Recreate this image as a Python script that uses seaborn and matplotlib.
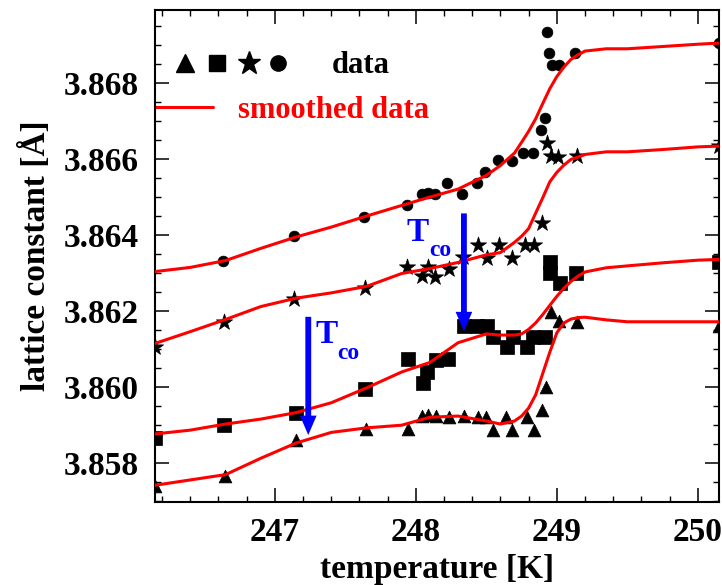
import numpy as np
import pandas as pd
import matplotlib
matplotlib.use("Agg")
import matplotlib.pyplot as plt
from matplotlib.ticker import MultipleLocator
import seaborn as sns

# ---------------- data ----------------
circ_T = [246.634, 247.138, 247.634, 247.937, 248.041, 248.088, 248.136, 248.219,
          248.325, 248.432, 248.49, 248.585, 248.68, 248.762, 248.833, 248.885,
          248.916, 248.932, 248.944, 248.963, 249.017, 249.129, 250.15]
circ_a = [3.86332, 3.86397, 3.86447, 3.86477, 3.86507, 3.86509, 3.86507, 3.86537,
          3.86507, 3.86537, 3.86566, 3.86597, 3.86594, 3.86616, 3.86616, 3.86676,
          3.86706, 3.86934, 3.86877, 3.86847, 3.86847, 3.86877, 3.86905]

star_T = [246.15, 246.639, 247.136, 247.639, 247.935, 248.041, 248.088, 248.137,
          248.235, 248.338, 248.444, 248.508, 248.59, 248.682, 248.771, 248.841,
          248.895, 248.932, 248.959, 249.008, 249.143, 250.15]
star_a = [3.86105, 3.86171, 3.8623, 3.86259, 3.86316, 3.86291, 3.86316, 3.86289,
          3.86311, 3.86341, 3.86373, 3.86339, 3.86373, 3.86339, 3.86373, 3.86373,
          3.86431, 3.86641, 3.86606, 3.86605, 3.86607, 3.86633]

sq_T = [246.15, 246.639, 247.148, 247.639, 247.946, 248.049, 248.077, 248.143,
        248.23, 248.341, 248.434, 248.502, 248.549, 248.644, 248.691, 248.786,
        248.833, 248.916, 248.951, 248.951, 249.022, 249.136, 250.15]
sq_a = [3.85864, 3.85899, 3.8593, 3.85993, 3.86072, 3.86011, 3.8604, 3.8607,
        3.86072, 3.8616, 3.86161, 3.8616, 3.86132, 3.86105, 3.86132, 3.86105,
        3.86132, 3.86132, 3.86329, 3.863, 3.86272, 3.863, 3.86329]

tri_T = [246.15, 246.646, 247.148, 247.646, 247.941, 248.042, 248.088, 248.146,
         248.235, 248.345, 248.441, 248.498, 248.544, 248.639, 248.685, 248.788,
         248.838, 248.895, 248.925, 248.959, 249.012, 249.146, 250.15]
tri_a = [3.85739, 3.85765, 3.8586, 3.8589, 3.85889, 3.85923, 3.85926, 3.85924,
         3.8592, 3.85923, 3.8592, 3.8592, 3.85886, 3.8592, 3.85886, 3.8592,
         3.85886, 3.85939, 3.85999, 3.86197, 3.86173, 3.8617, 3.86161]

smooth_T = [246.15, 246.4, 246.65, 246.9, 247.15, 247.4, 247.65, 247.9, 248.1, 248.3,
            248.5, 248.6, 248.7, 248.75, 248.8, 248.85, 248.9, 248.95, 249.0, 249.05,
            249.1, 249.15, 249.2, 249.35, 249.5, 249.75, 250.0, 250.15]
smooth_circ = [3.86303, 3.86314, 3.86332, 3.86364, 3.86394, 3.86420, 3.86449, 3.86477,
               3.86499, 3.86520, 3.86556, 3.86582, 3.86615, 3.86643, 3.86672, 3.86705,
               3.86745, 3.86784, 3.86816, 3.86841, 3.86861, 3.86873, 3.86883, 3.86889,
               3.86889, 3.86895, 3.86901, 3.86904]
smooth_star = [3.86114, 3.86145, 3.86177, 3.86211, 3.86233, 3.86247, 3.86264, 3.86298,
               3.86311, 3.86327, 3.86347, 3.86353, 3.86380, 3.86396, 3.86416, 3.86457,
               3.86497, 3.86539, 3.86564, 3.86583, 3.86598, 3.86604, 3.86611, 3.86618,
               3.86618, 3.86624, 3.86631, 3.86633]
smooth_sq = [3.85876, 3.85886, 3.85902, 3.85915, 3.85932, 3.85958, 3.85997, 3.86039,
             3.86064, 3.86116, 3.86139, 3.86136, 3.86136, 3.86139, 3.86151, 3.86168,
             3.86190, 3.86214, 3.86238, 3.86259, 3.86277, 3.86291, 3.86302, 3.86313,
             3.86318, 3.86326, 3.86333, 3.86335]
smooth_tri = [3.85741, 3.85755, 3.85769, 3.85812, 3.85852, 3.85880, 3.85892, 3.85899,
              3.85920, 3.85923, 3.85910, 3.85902, 3.85910, 3.85923, 3.85944, 3.85979,
              3.86035, 3.86091, 3.86142, 3.86168, 3.86178, 3.86182, 3.86183, 3.86176,
              3.86171, 3.86171, 3.86171, 3.86171]

x_ticks = [247, 248, 249, 250]
x_tick_labels = ["247", "248", "249", "250"]
y_ticks = [3.858, 3.860, 3.862, 3.864, 3.866, 3.868]
y_tick_labels = ["3.858", "3.860", "3.862", "3.864", "3.866", "3.868"]

# T_co arrows (temperature, start, end) and labels
tco_T = [247.237, 248.341]
tco_from = [3.86184, 3.86456]
tco_to = [3.85873, 3.86146]
tco_text_T = [247.285, 247.935]
tco_text_a = [3.86114, 3.86384]

# ---------------- styling ----------------
sns.set_theme(style="ticks")
plt.rcParams["font.family"] = ["Liberation Serif", "DejaVu Serif"]
plt.rcParams["font.weight"] = "bold"
plt.rcParams["axes.labelweight"] = "bold"
plt.rcParams["text.color"] = "black"
plt.rcParams["axes.labelcolor"] = "black"
plt.rcParams["xtick.color"] = "black"
plt.rcParams["ytick.color"] = "black"
plt.rcParams["xtick.labelcolor"] = "black"
plt.rcParams["ytick.labelcolor"] = "black"

RED = "#ff0000"
BLUE = "#0000ff"

fig = plt.figure(figsize=(7.22, 5.85), dpi=100)
ax = fig.add_axes([0.2147, 0.1419, 0.9958 - 0.2147, 0.9829 - 0.1419])

series = [
    (circ_T, circ_a, "o", 60),
    (star_T, star_a, "*", 150),
    (sq_T, sq_a, "s", 95),
    (tri_T, tri_a, "^", 85),
]
for T, a, m, s in series:
    df = pd.DataFrame({"T": T, "a": a})
    sns.scatterplot(data=df, x="T", y="a", marker=m, s=s, color="black",
                    edgecolor="black", linewidth=0.5, ax=ax, zorder=2, legend=False)

for curve in [smooth_circ, smooth_star, smooth_sq, smooth_tri]:
    dfl = pd.DataFrame({"T": smooth_T, "a": curve})
    sns.lineplot(data=dfl, x="T", y="a", color=RED, linewidth=2.2, ax=ax,
                 estimator=None, sort=False, zorder=3, legend=False)

# arrows and labels
for T, a0, a1, tx, ty in zip(tco_T, tco_from, tco_to, tco_text_T, tco_text_a):
    ax.annotate("", xy=(T, a1), xytext=(T, a0),
                arrowprops=dict(arrowstyle="simple,head_length=1.4,head_width=1.2,tail_width=0.42",
                                mutation_scale=10, color=BLUE, lw=0,
                                shrinkA=0, shrinkB=0), zorder=4)
    t = ax.text(tx, ty, "T", color=BLUE, fontsize=24, fontweight="bold",
                ha="left", va="baseline", zorder=5)
    ax.annotate("co", xy=(1.0, 0.0), xycoords=t, xytext=(0, -6),
                textcoords="offset points", color=BLUE, fontsize=17,
                fontweight="bold", ha="left", va="baseline", zorder=5)

# axes limits and ticks
ax.set_xlim(246.15, 250.15)
ax.set_ylim(3.85697, 3.86991)
ax.set_xticks(x_ticks)
ax.set_xticklabels(x_tick_labels)
ax.set_yticks(y_ticks)
ax.set_yticklabels(y_tick_labels)
ax.xaxis.set_minor_locator(MultipleLocator(0.2))
ax.yaxis.set_minor_locator(MultipleLocator(0.0005))
ax.tick_params(which="both", direction="in", top=True, right=True, color="black",
               labelcolor="black")
ax.tick_params(which="major", length=10, width=1.1, labelsize=24, pad=11)
ax.tick_params(which="minor", length=4.5, width=1.0)
ax.tick_params(axis="y", which="major", pad=12)
for lab in ax.get_xticklabels() + ax.get_yticklabels():
    lab.set_fontweight("bold")
for sp in ax.spines.values():
    sp.set_linewidth(1.5)
    sp.set_color("black")

ax.set_xlabel("temperature [K]", fontsize=24, fontweight="bold", labelpad=4,
              color="black")
ax.set_ylabel("lattice constant [Å]", fontsize=24, fontweight="bold", labelpad=8,
              color="black")

# legend (drawn manually to mimic the original layout)
leg_markers = [("^", 0.0532, 13), ("s", 0.1094, 11), ("*", 0.1667, 17), ("o", 0.2186, 11)]
for m, xx, ms in leg_markers:
    ax.plot([xx], [0.8925], marker=m, markersize=ms, color="black", ls="none",
            transform=ax.transAxes, clip_on=False)
ax.text(0.3142, 0.8726, "data", transform=ax.transAxes, color="black",
        fontsize=22, fontweight="bold", ha="left", va="baseline")
ax.plot([0.0, 0.1034], [0.8035, 0.8035], color=RED, lw=2.2, transform=ax.transAxes)
ax.text(0.1477, 0.7799, "smoothed data", transform=ax.transAxes, color=RED,
        fontsize=22, fontweight="bold", ha="left", va="baseline")

fig.savefig("out.png", dpi=100)
